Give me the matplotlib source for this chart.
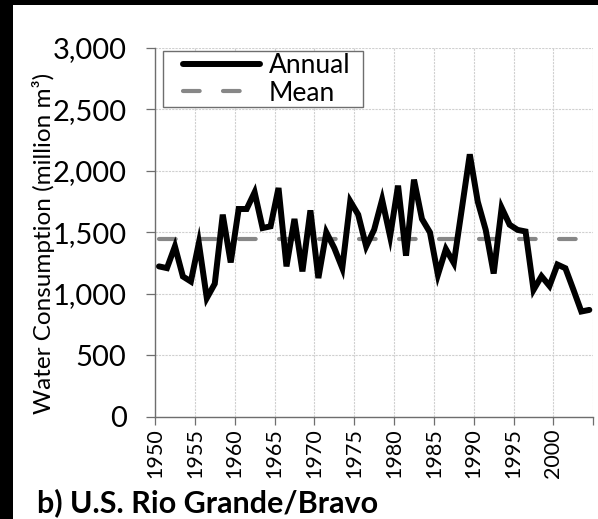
"""
U.S. Rio Grande/Bravo water consumption, annual vs. mean
"""

import matplotlib
matplotlib.use('Agg')
import matplotlib.pyplot as plt
from matplotlib.patches import Rectangle

plt.rcParams['font.family'] = ['Lato', 'DejaVu Sans']

# data
years = list(range(1950, 2005))
annual = [1223, 1209, 1386, 1141, 1100, 1413, 965, 1082, 1644, 1255,
          1690, 1690, 1826, 1535, 1549, 1861, 1223, 1609, 1182, 1679,
          1128, 1500, 1372, 1209, 1753, 1644, 1386, 1522, 1766, 1467,
          1880, 1310, 1929, 1609, 1500, 1155, 1364, 1250, 1690, 2135,
          1750, 1520, 1165, 1700, 1562, 1520, 1507, 1032, 1143, 1064,
          1238, 1208, 1034, 856, 869]
mean_value = 1446
tick_years = [1950, 1955, 1960, 1965, 1970, 1975, 1980, 1985, 1990, 1995, 2000, None]
y_ticks = [0, 500, 1000, 1500, 2000, 2500, 3000]

W, H = 598, 519
fig = plt.figure(figsize=(W / 100, H / 100), dpi=100)
ax = fig.add_axes([155 / W, 1 - 416.7 / H, (593.3 - 155) / W, (416.7 - 48) / H])

ax.plot(years, annual, color='black', lw=4.3, solid_joinstyle='miter',
        solid_capstyle='round', label='Annual', zorder=3)
ax.plot(years, [mean_value] * len(years), color='#878787', lw=3.0,
        dashes=(4.0, 5.6), dash_capstyle='round', label='Mean', zorder=2)

ax.set_xlim(1949.5, 2004.5)
ax.set_ylim(0, 3000)
ax.set_xticks([y - 0.5 for y in range(1950, 2006, 5)])
ax.set_xticklabels([str(t) if t else '' for t in tick_years], rotation=90, fontsize=15.5)
ax.set_yticks(y_ticks)
ax.set_yticklabels([f'{v:,}' for v in y_ticks], fontsize=21)

ax.grid(True, color='#d0d0d0', lw=0.8, linestyle=(0, (2, 1)))
ax.set_axisbelow(True)
for s in ('top', 'right'):
    ax.spines[s].set_visible(False)
for s in ('left', 'bottom'):
    ax.spines[s].set_color('#6e6e6e')
    ax.spines[s].set_linewidth(1.0)
ax.tick_params(axis='y', direction='out', length=6.5, width=0.9, color='#6e6e6e', pad=14)
ax.tick_params(axis='x', direction='out', length=5.5, width=0.9, color='#6e6e6e', pad=3)

ax.set_ylabel('Water Consumption (million m³)', fontsize=17.5)
ax.yaxis.set_label_coords((55 - 155) / 438.3, (416.7 - 243.5) / 368.7)

# legend without its own frame, box drawn where the reference has it
leg = ax.legend(loc='upper left', bbox_to_anchor=(183 / W, 1 - 53 / H),
                bbox_transform=fig.transFigure, fontsize=19,
                handlelength=2.9, handletextpad=0.35, borderpad=0, labelspacing=0.1,
                frameon=False, borderaxespad=0)
leg.set_zorder(6)
ax.add_patch(Rectangle((163 / W, 1 - 107 / H), 200 / W, 56 / H,
                       transform=fig.transFigure, facecolor='white',
                       edgecolor='#6e6e6e', lw=1.0, zorder=5, clip_on=False))

fig.text(37 / W, 1 - 512 / H, 'b) U.S. Rio Grande/Bravo', fontsize=22,
         fontweight='bold', ha='left', va='baseline')

# black frame strips of the original panel
fig.patches.append(Rectangle((0, 0), 13 / W, 1, transform=fig.transFigure,
                             facecolor='black', edgecolor='none'))
fig.patches.append(Rectangle((0, 1 - 5 / H), 1, 5 / H, transform=fig.transFigure,
                             facecolor='black', edgecolor='none'))

fig.savefig('out.png', dpi=100)
